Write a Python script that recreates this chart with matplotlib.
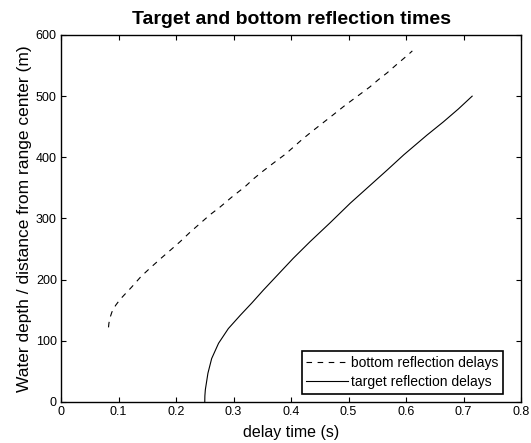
import matplotlib
matplotlib.use('Agg')
import matplotlib.pyplot as plt

plt.rcParams['font.family'] = ['Liberation Sans', 'DejaVu Sans']

# bottom reflection delays
bottom_t = [0.0826, 0.0832, 0.0850, 0.0885, 0.095, 0.103, 0.113, 0.123, 0.139, 0.155,
            0.174, 0.190, 0.207, 0.225, 0.242, 0.259, 0.277, 0.297, 0.320, 0.335,
            0.352, 0.370, 0.390, 0.407, 0.419, 0.436, 0.455, 0.474, 0.494, 0.517,
            0.537, 0.552, 0.567, 0.584, 0.604, 0.611]
bottom_d = [122, 128, 137, 147, 158, 168, 178, 188, 205, 219,
            235, 248, 262, 278, 292, 306, 319, 335, 352, 365,
            378, 391, 405, 419, 429, 442, 456, 470, 485, 501,
            515, 527, 538, 552, 568, 574]

# target reflection delays
target_t = [0.250, 0.2502, 0.251, 0.2535, 0.2555, 0.262, 0.274, 0.291, 0.312, 0.332,
            0.352, 0.381, 0.404, 0.433, 0.468, 0.503, 0.535, 0.567, 0.596, 0.636,
            0.665, 0.691, 0.715]
target_d = [0, 10, 20, 35, 47, 71, 96, 120, 142, 162,
            183, 212, 235, 262, 293, 325, 352, 379, 404, 436,
            458, 479, 500]

fig = plt.figure(figsize=(5.31, 4.43), dpi=100)
ax = fig.add_axes([0.1149, 0.0926, 0.8663, 0.8284])

ax.plot(bottom_t, bottom_d, color='black', linewidth=0.8, linestyle=(0, (5, 5)),
        label='bottom reflection delays')
ax.plot(target_t, target_d, color='black', linewidth=0.8,
        label='target reflection delays')

ax.set_xlim(0, 0.8)
ax.set_ylim(0, 600)
ax.set_xticks([0, 0.1, 0.2, 0.3, 0.4, 0.5, 0.6, 0.7, 0.8])
ax.set_xticklabels(['0', '0.1', '0.2', '0.3', '0.4', '0.5', '0.6', '0.7', '0.8'])
ax.set_yticks([0, 100, 200, 300, 400, 500, 600])

ax.tick_params(direction='in', length=3.5, width=0.8, top=True, right=True,
               labelsize=9, pad=3)
for s in ax.spines.values():
    s.set_linewidth(1.0)

ax.set_title('Target and bottom reflection times', fontsize=14, fontweight='bold', pad=8)
ax.set_xlabel('delay time (s)', fontsize=11.5, labelpad=5)
ax.set_ylabel('Water depth / distance from range center (m)', fontsize=12.5, labelpad=3)

leg = ax.legend(loc='lower right', bbox_to_anchor=(0.961, 0.0218), borderaxespad=0,
                fontsize=10, handlelength=3.0, handletextpad=0.2, labelspacing=0.35,
                fancybox=False, framealpha=1, edgecolor='black', borderpad=0.35)
leg.get_frame().set_linewidth(1.2)

plt.savefig('out.png', dpi=100, facecolor='white')
